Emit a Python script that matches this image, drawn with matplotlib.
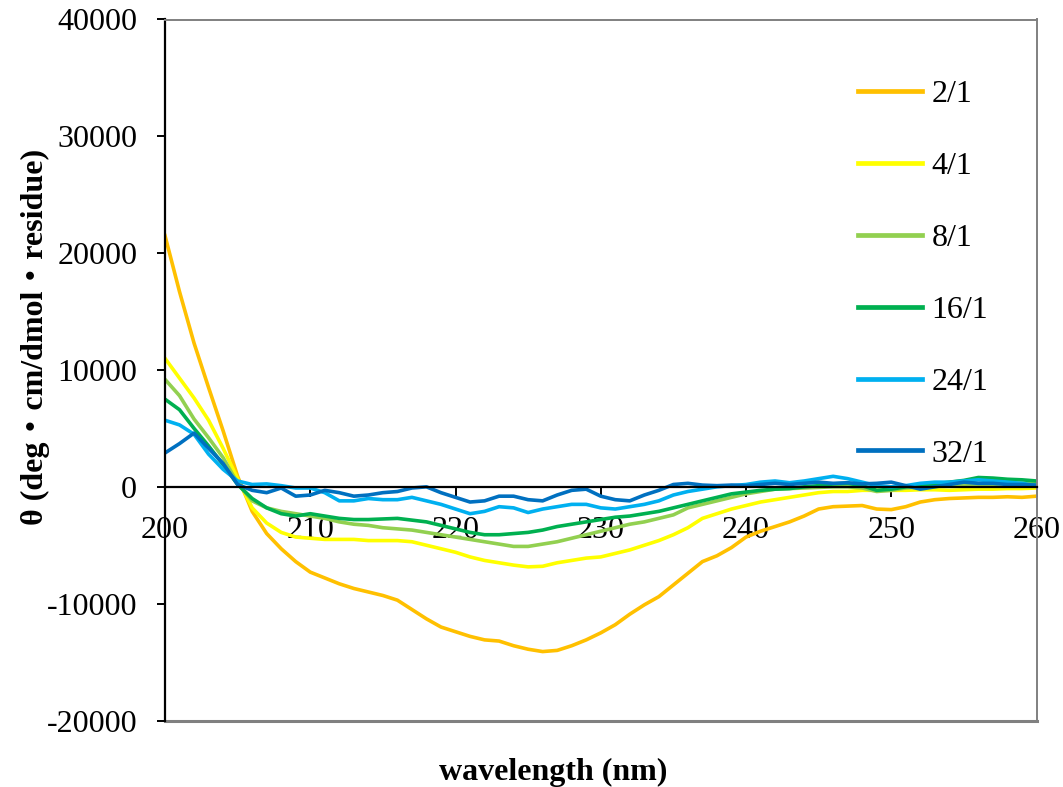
import matplotlib
matplotlib.use('Agg')
import matplotlib.pyplot as plt

wavelength = list(range(200, 261))

ratio_labels = ['2/1', '4/1', '8/1', '16/1', '24/1', '32/1']
line_colors = ['#FFC000', '#FFFF00', '#92D050', '#00B050', '#00B0F0', '#0070C0']

theta_2 = [21500, 16700, 12300, 8500, 4800, 900, -2100, -4000, -5300, -6400,
           -7300, -7800, -8300, -8700, -9000, -9300, -9700, -10500, -11300, -12000,
           -12400, -12800, -13100, -13200, -13600, -13900, -14100, -14000, -13600, -13100,
           -12500, -11800, -10900, -10100, -9400, -8400, -7400, -6400, -5900, -5200,
           -4300, -3800, -3400, -3000, -2500, -1900, -1700, -1650, -1600, -1900,
           -1950, -1700, -1300, -1100, -1000, -950, -900, -900, -850, -900, -800]
theta_4 = [11000, 9300, 7600, 5700, 3300, 700, -1800, -3100, -3900, -4300,
           -4400, -4500, -4500, -4500, -4600, -4600, -4600, -4700, -5000, -5300,
           -5600, -6000, -6300, -6500, -6700, -6850, -6800, -6500, -6300, -6100,
           -6000, -5700, -5400, -5000, -4600, -4100, -3500, -2700, -2300, -1900,
           -1600, -1300, -1100, -900, -700, -500, -400, -400, -300, -300,
           -300, -300, -250, -250, -300, -250, -200, -200, -150, -150, -100]
theta_8 = [9200, 7800, 5800, 4200, 2500, 300, -1200, -1800, -2100, -2300,
           -2500, -2700, -3000, -3200, -3300, -3500, -3600, -3700, -3900, -4100,
           -4300, -4500, -4700, -4900, -5100, -5100, -4900, -4700, -4400, -4100,
           -3800, -3500, -3200, -3000, -2700, -2400, -1800, -1500, -1200, -900,
           -600, -400, -200, -150, -100, -50, 0, 0, -100, -400,
           -300, -100, 0, 50, 100, 150, 200, 200, 300, 300, 250]
theta_16 = [7500, 6600, 5000, 3500, 1900, 200, -1000, -1800, -2300, -2500,
            -2300, -2500, -2700, -2800, -2800, -2750, -2700, -2850, -3000, -3300,
            -3600, -3900, -4100, -4100, -4000, -3900, -3700, -3400, -3200, -3000,
            -2800, -2600, -2500, -2300, -2100, -1800, -1500, -1200, -900, -600,
            -450, -300, -200, -150, 0, 100, 250, 300, 100, -300,
            -200, 0, 100, 250, 400, 550, 800, 750, 650, 600, 500]
theta_24 = [5700, 5300, 4500, 2800, 1500, 500, 200, 250, 100, -100,
            -100, -500, -1200, -1200, -1000, -1100, -1100, -900, -1200, -1500,
            -1900, -2300, -2100, -1700, -1800, -2200, -1900, -1700, -1500, -1500,
            -1800, -1900, -1700, -1500, -1200, -700, -400, -200, 0, 100,
            200, 400, 500, 350, 500, 700, 900, 700, 400, 100,
            0, 100, 300, 400, 400, 500, 600, 500, 400, 300, 100]
theta_32 = [2900, 3700, 4600, 3300, 2000, 200, -300, -500, -100, -800,
            -700, -300, -500, -800, -700, -500, -400, -100, 0, -500,
            -900, -1300, -1200, -800, -800, -1100, -1200, -700, -300, -200,
            -800, -1100, -1200, -700, -300, 200, 300, 150, 100, 150,
            100, 200, 300, 200, 300, 400, 300, 350, 250, 300,
            400, 100, -200, 0, 200, 400, 300, 300, 200, 200, 150]

x_ticks = [200, 210, 220, 230, 240, 250, 260]
y_ticks = [-20000, -10000, 0, 10000, 20000, 30000, 40000]

serif = ['Liberation Serif', 'Noto Sans CJK JP']
plt.rcParams['font.family'] = serif
plt.rcParams['font.size'] = 23
plt.rcParams['axes.unicode_minus'] = False

fig = plt.figure(figsize=(10.63, 7.87), dpi=100)
ax = fig.add_axes([165 / 1063, 1 - 720.5 / 787, 871.5 / 1063, 701 / 787])

series = [theta_2, theta_4, theta_8, theta_16, theta_24, theta_32]
for vals, lab, col in zip(series, ratio_labels, line_colors):
    ax.plot(wavelength, vals, color=col, lw=2.6, label=lab)

ax.set_xlim(200, 260)
ax.set_ylim(-20000, 40000)
ax.set_xticks(x_ticks)
ax.set_yticks(y_ticks)

ax.spines['bottom'].set_position(('data', 0))
ax.spines['bottom'].set_color('black')
ax.spines['bottom'].set_linewidth(1.6)
ax.spines['left'].set_color('black')
ax.spines['left'].set_linewidth(1.6)
for s in ['top', 'right']:
    ax.spines[s].set_color('#808080')
    ax.spines[s].set_linewidth(1.4)
ax.axhline(-20000, color='#808080', lw=2.2, clip_on=False, zorder=0)

ax.tick_params(axis='x', direction='out', length=7, width=1.4, pad=14)
ax.tick_params(axis='y', direction='out', length=6, width=1.4, pad=14)

fig.text(553 / 1063, 1 - 772 / 787, 'wavelength (nm)', ha='center', va='center',
         fontsize=23, fontweight='bold', family=serif)
fig.text(35 / 1063, 1 - 337 / 787, 'θ (deg・cm/dmol・residue)', ha='center', va='center',
         rotation=90, fontsize=23, fontweight='bold', family=serif)

leg = ax.legend(loc='upper left', bbox_to_anchor=(858 / 1063, 1 - 80 / 787),
                bbox_transform=fig.transFigure, frameon=False, handlelength=2.0,
                handletextpad=0.3, labelspacing=1.33, borderpad=0, borderaxespad=0)
for ln in leg.get_lines():
    ln.set_linewidth(3.4)

fig.savefig('out.png', dpi=100)
